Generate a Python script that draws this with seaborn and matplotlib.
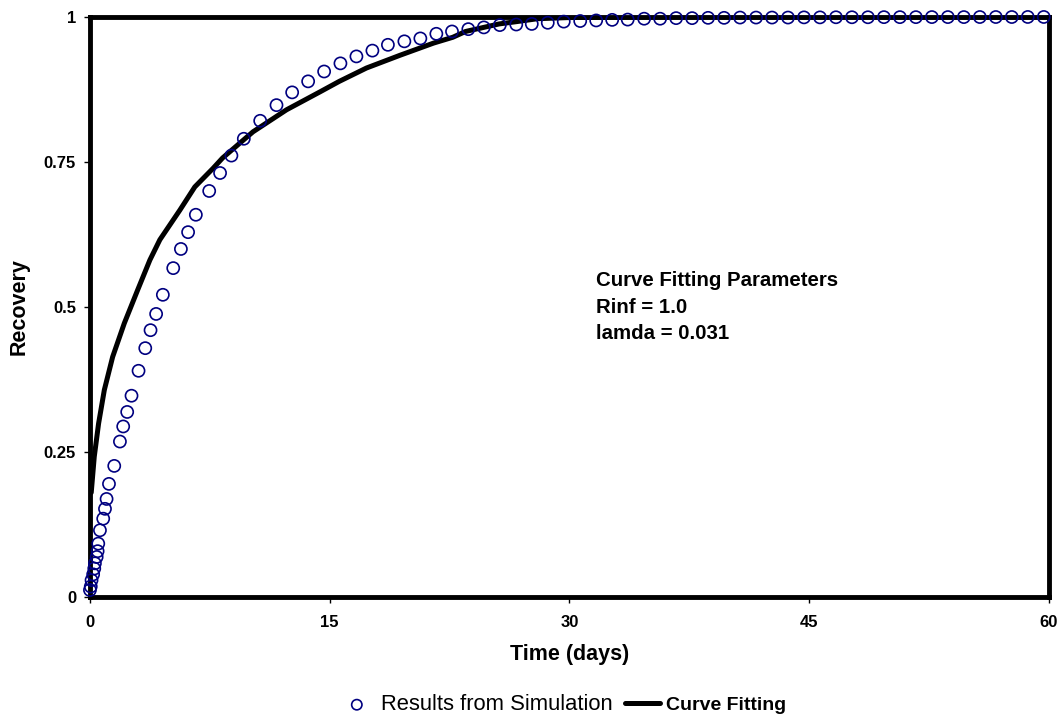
import matplotlib
matplotlib.use("Agg")
import matplotlib.pyplot as plt
import seaborn as sns
import pandas as pd

# Simulation output: time (days) and recovery fraction
sim_time = [0.0, 0.05, 0.1, 0.2, 0.27, 0.31, 0.42, 0.48, 0.52, 0.625, 0.83, 0.94,
            1.04, 1.19, 1.52, 1.875, 2.08, 2.33, 2.6, 3.04, 3.46, 3.79, 4.14, 4.56,
            5.21, 5.69, 6.14, 6.625, 7.46, 8.14, 8.85, 9.625, 10.65, 11.67, 12.65,
            13.65, 14.65, 15.67, 16.67, 17.67, 18.64, 19.67, 20.67, 21.67, 22.65,
            23.67, 24.64, 25.64, 26.67, 27.64, 28.64, 29.64, 30.67, 31.67, 32.67,
            33.64, 34.67, 35.67, 36.67, 37.67, 38.67, 39.67, 40.67, 41.67, 42.67,
            43.67, 44.67, 45.67, 46.67, 47.67, 48.67, 49.67, 50.67, 51.67, 52.67,
            53.67, 54.67, 55.67, 56.67, 57.67, 58.67, 59.67]
sim_recovery = [0.012, 0.018, 0.029, 0.039, 0.049, 0.058, 0.069, 0.079, 0.092, 0.115,
                0.135, 0.152, 0.169, 0.195, 0.226, 0.268, 0.294, 0.319, 0.347, 0.390,
                0.429, 0.460, 0.488, 0.521, 0.567, 0.600, 0.629, 0.659, 0.700, 0.731,
                0.761, 0.790, 0.821, 0.848, 0.870, 0.889, 0.906, 0.920, 0.932, 0.942,
                0.952, 0.958, 0.963, 0.971, 0.975, 0.979, 0.982, 0.986, 0.987, 0.988,
                0.990, 0.992, 0.993, 0.994, 0.995, 0.9955, 0.997, 0.997, 0.998, 0.998,
                0.9985, 0.9985, 0.999, 0.999, 0.999, 0.999, 0.9993, 0.9993, 0.9995,
                0.9995, 0.9995, 0.9997, 0.9997, 0.9997, 0.9998, 0.9998, 0.9998, 0.9999,
                0.9999, 0.9999, 1.0, 1.0]

# Fitted recovery curve
fit_time = [0.08, 0.27, 0.54, 0.9, 1.42, 2.15, 2.98, 3.75, 4.375, 5.625, 6.56, 7.7,
            8.3, 10.2, 12.3, 14.4, 15.6, 17.3, 19.4, 21.5, 22.7, 23.5, 25.6, 26.7,
            28.0, 30.0, 35.0, 40.0, 45.0, 50.0, 55.0, 60.0]
fit_recovery = [0.18, 0.242, 0.299, 0.357, 0.414, 0.472, 0.529, 0.581, 0.616, 0.667,
                0.707, 0.739, 0.757, 0.802, 0.840, 0.871, 0.889, 0.912, 0.934, 0.955,
                0.965, 0.975, 0.988, 0.992, 0.997, 0.999, 1.0, 1.0, 1.0, 1.0, 1.0, 1.0]

x_ticks = [0, 15, 30, 45, 60]
y_ticks = [0, 0.25, 0.5, 0.75, 1]
y_tick_labels = ["0", "0.25", "0.5", "0.75", "1"]

sns.set_theme(style="white")
plt.rcParams["font.family"] = ["Liberation Sans", "DejaVu Sans"]
plt.rcParams["text.color"] = "black"
plt.rcParams["axes.labelcolor"] = "black"
plt.rcParams["xtick.color"] = "black"
plt.rcParams["ytick.color"] = "black"

sim_df = pd.DataFrame({"t": sim_time, "R": sim_recovery})
fit_df = pd.DataFrame({"t": fit_time, "R": fit_recovery})

fig = plt.figure(figsize=(10.62, 7.19), dpi=100)
ax = fig.add_axes([0.0847, 0.1697, 0.9031, 0.8067])

sns.lineplot(data=fit_df, x="t", y="R", ax=ax, color="black", linewidth=3.6,
             label="Curve Fitting", sort=False, estimator=None, zorder=3)
sns.scatterplot(data=sim_df, x="t", y="R", ax=ax, marker="o", s=76,
                facecolors="none", edgecolor="#000080", linewidth=1.2,
                label="Results from Simulation", zorder=5, clip_on=False)

handles, labels = ax.get_legend_handles_labels()
ax.get_legend().remove()

ax.set_xlim(0, 60)
ax.set_ylim(0, 1)
ax.set_xticks(x_ticks)
ax.set_yticks(y_ticks)
ax.set_yticklabels(y_tick_labels)
for lab in ax.get_xticklabels() + ax.get_yticklabels():
    lab.set_fontweight("bold")
    lab.set_fontsize(12)
ax.tick_params(axis="both", direction="out", length=4, width=1, color="black",
               bottom=True, left=True)
ax.tick_params(axis="x", pad=9)
ax.tick_params(axis="y", pad=6)

for sp in ax.spines.values():
    sp.set_visible(True)
    sp.set_color("black")
    sp.set_linewidth(3.5)

ax.set_xlabel("Time (days)", fontsize=15.5, fontweight="bold", labelpad=10)
ax.set_ylabel("Recovery", fontsize=15.5, fontweight="bold", labelpad=10)

ax.text(0.528, 0.562, "Curve Fitting Parameters\nRinf = 1.0\nlamda = 0.031",
        transform=ax.transAxes, fontsize=14.7, fontweight="bold",
        va="top", ha="left", linespacing=1.5)

order = [labels.index("Results from Simulation"), labels.index("Curve Fitting")]
leg = fig.legend([handles[i] for i in order], [labels[i] for i in order],
                 loc="center", bbox_to_anchor=(0.530, 0.0195), ncol=2, frameon=False,
                 fontsize=15.8, handlelength=1.6, handletextpad=0.3,
                 columnspacing=0.55, markerscale=0.85)
for txt in leg.get_texts():
    if txt.get_text() == "Curve Fitting":
        txt.set_fontweight("bold")
        txt.set_fontsize(14)

fig.savefig("out.png", dpi=100)
